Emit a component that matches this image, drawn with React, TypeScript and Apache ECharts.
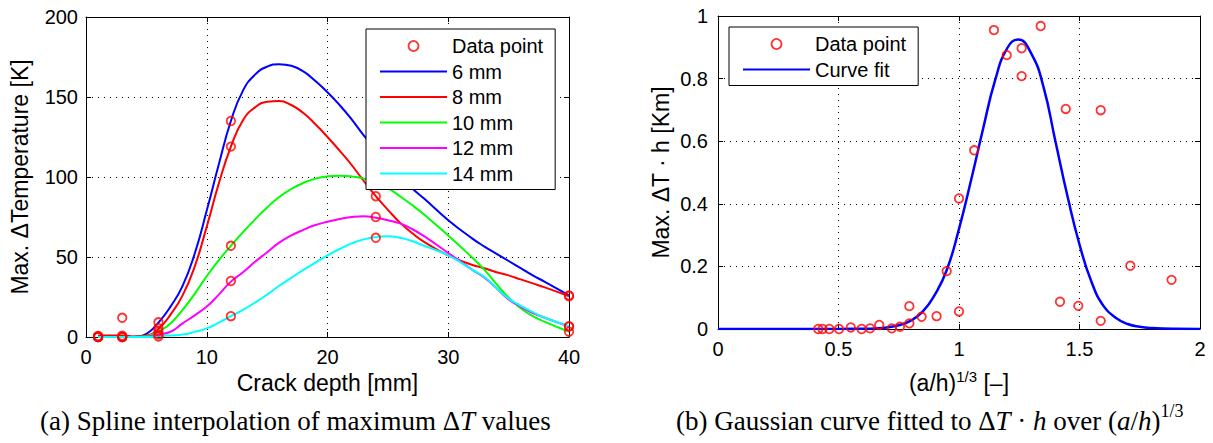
import React, { useEffect, useRef } from "react";
import * as echarts from "echarts";

// ---------- (a) Spline interpolation ----------
const depthTicksMax = 40;
const deltaTMax = 200;

// data points (crack depth [mm], max ΔT [K])
const crackDepthPts = [1, 1, 1, 1, 1, 3, 3, 3, 3, 3, 6, 6, 6, 6, 6, 12, 12, 12, 12, 12, 24, 24, 24, 24, 24, 40, 40, 40, 40, 40];
const maxDeltaTPts = [0.6, 0.3, 0, 0, 0, 12, 0.8, 0, 0, 0, 9.2, 5.5, 3.5, 1.5, 0.3, 135, 119, 57, 35, 13, 117, 88, 97, 75, 62, 26, 25.5, 3.3, 6.5, 6.8];

// spline curves
const curveDepth = [1, 3, 4, 5, 6, 7, 8, 9, 10, 11, 12, 13, 14, 15, 16, 17, 18, 19, 20, 21, 22, 23, 24, 25, 26, 27, 28, 30, 32, 33, 34, 35, 36, 37, 38, 40];
const curve6mm = [0.3, 0.5, 0.2, 2, 9, 19, 32, 52, 79, 108, 135, 154, 164, 169, 170.5, 169.5, 166, 160, 153, 145, 136, 126, 117, 108.5, 100.5, 93, 86.5, 73, 61.5, 56.5, 52, 47.5, 43, 38.5, 34.5, 26];
const curve8mm = [1, 1, 0.3, 1, 5, 14, 26, 44, 69, 96, 119, 135.5, 143.5, 147, 147.5, 145, 140, 133, 125, 116.5, 107.5, 97.5, 88, 79.5, 71.5, 65, 59.5, 51, 45, 43, 40.5, 38.5, 36, 33.5, 31, 25.5];
const curve10mm = [0, 0, 0, 0.5, 3.5, 8.5, 17, 27, 38, 48, 57, 65.5, 73.5, 81, 87.5, 92.5, 96.3, 99, 100.4, 100.8, 100.3, 99, 96.5, 93, 88, 82.5, 76.5, 63.5, 49.5, 42, 33, 24.5, 18, 13, 9.5, 3.3];
const curve12mm = [0, 0, 0, 0.2, 1.5, 3.3, 8.5, 13.5, 19, 26.5, 34.6, 40.5, 47, 53, 59, 63.5, 67, 70, 72, 73.8, 75, 75.5, 74.6, 73, 71, 67.5, 63, 52.5, 42, 37, 30.5, 23.5, 19, 15, 12, 6.5];
const curve14mm = [0, 0, 0, 0, 0.5, 1, 1.5, 3.2, 5.4, 9, 13, 17, 21.5, 26.5, 32, 37, 42, 46.5, 51, 55, 58.5, 61, 62.5, 63, 62, 60, 57, 51, 42, 37.5, 30.5, 24, 19.5, 15.5, 12, 6.8];

// ---------- (b) Gaussian fit ----------
const ratioPts = [0.416, 0.434, 0.462, 0.502, 0.551, 0.596, 0.631, 0.669, 0.721, 0.755, 0.794, 0.794, 0.845, 0.907, 0.949, 1.0, 1.0, 1.063, 1.145, 1.198, 1.26, 1.26, 1.339, 1.419, 1.443, 1.495, 1.588, 1.588, 1.711, 1.882];
const dtHPts = [0, 0, 0, 0, 0.005, 0, 0.002, 0.013, 0.002, 0.007, 0.018, 0.073, 0.039, 0.041, 0.185, 0.417, 0.056, 0.571, 0.955, 0.875, 0.897, 0.808, 0.968, 0.087, 0.703, 0.074, 0.699, 0.026, 0.202, 0.157];
const fitX = [0, 0.5, 0.6, 0.65, 0.7, 0.75, 0.8, 0.85, 0.9, 0.95, 1.0, 1.05, 1.1, 1.15, 1.2, 1.245, 1.3, 1.35, 1.4, 1.45, 1.5, 1.55, 1.6, 1.65, 1.7, 1.75, 1.8, 1.9, 2.0];
const fitY = [0, 0, 0.001, 0.002, 0.005, 0.012, 0.027, 0.056, 0.11, 0.19, 0.32, 0.475, 0.64, 0.795, 0.897, 0.925, 0.88, 0.775, 0.6, 0.425, 0.27, 0.15, 0.073, 0.036, 0.016, 0.007, 0.003, 0.0005, 0];

const curveNames = ["6 mm", "8 mm", "10 mm", "12 mm", "14 mm"];
const curveValues = [curve6mm, curve8mm, curve10mm, curve12mm, curve14mm];
const curveColors = ["#0000ff", "#ff0000", "#00ff00", "#ff00ff", "#00ffff"];

const sans = "'Liberation Sans', Arial, Helvetica, sans-serif";
const serif = "'Liberation Serif', 'Times New Roman', serif";

const zip = (xs: number[], ys: number[]) => xs.map((x, i) => [x, ys[i]]);

const tickFont = 20;
const nameFont = 23;

const mainAxis = (extra: any) => ({
  type: "value",
  axisLine: { show: true, onZero: false, lineStyle: { color: "#000", width: 1 } },
  axisTick: { show: true, inside: true, length: 5, lineStyle: { color: "#000" } },
  splitLine: { show: true, lineStyle: { color: "#000", type: [1, 5], width: 1 } },
  nameLocation: "middle",
  nameTextStyle: { color: "#000", fontSize: nameFont, fontFamily: sans },
  ...extra,
});
const sideAxis = (extra: any) => ({
  type: "value",
  axisLine: { show: true, onZero: false, lineStyle: { color: "#000", width: 1 } },
  axisTick: { show: true, inside: true, length: 5, lineStyle: { color: "#000" } },
  axisLabel: { show: false },
  splitLine: { show: false },
  ...extra,
});
const label = (margin: number) => ({ color: "#000", fontSize: tickFont, fontFamily: sans, margin });

const lineIcon = "path://M0 0H67V2H0Z";
const circleLegend = {
  name: "Data point",
  icon: "circle",
  itemStyle: { color: "transparent", borderColor: "#ff0000", borderWidth: 1.8 },
};

const legendCommon = {
  orient: "vertical",
  itemWidth: 67,
  itemHeight: 10,
  itemGap: 5.5,
  padding: [7, 12, 6, 14],
  borderColor: "#000",
  borderWidth: 1,
  borderRadius: 0,
  backgroundColor: "#fff",
  textStyle: { color: "#000", fontSize: 20, fontFamily: sans, lineHeight: 20 },
  selectedMode: false,
};

const option: any = {
  animation: false,
  backgroundColor: "#fff",
  grid: [
    { left: 86, top: 17, width: 483, height: 320 },
    { left: 718, top: 16, width: 482, height: 313 },
  ],
  xAxis: [
    mainAxis({
      gridIndex: 0, min: 0, max: depthTicksMax, interval: 10, position: "bottom",
      name: "Crack depth [mm]", nameGap: 34,
      axisLabel: label(10),
    }),
    sideAxis({ gridIndex: 0, min: 0, max: depthTicksMax, interval: 10, position: "top" }),
    mainAxis({
      gridIndex: 1, min: 0, max: 2, interval: 0.5, position: "bottom",
      name: "(a/h){sup|1/3} [–]", nameGap: 40,
      axisLabel: label(10),
      nameTextStyle: {
        color: "#000", fontSize: nameFont, fontFamily: sans, lineHeight: 28,
        rich: { sup: { fontSize: 15, lineHeight: 15, verticalAlign: "top", fontFamily: sans, color: "#000" } },
      },
    }),
    sideAxis({ gridIndex: 1, min: 0, max: 2, interval: 0.5, position: "top" }),
  ],
  yAxis: [
    mainAxis({
      gridIndex: 0, min: 0, max: deltaTMax, interval: 50, position: "left",
      name: "Max. ΔTemperature [K]", nameGap: 55,
      axisLabel: label(8),
    }),
    sideAxis({ gridIndex: 0, min: 0, max: deltaTMax, interval: 50, position: "right" }),
    mainAxis({
      gridIndex: 1, min: 0, max: 1, interval: 0.2, position: "left",
      name: "Max. ΔT · h [Km]", nameGap: 46,
      axisLabel: label(10),
    }),
    sideAxis({ gridIndex: 1, min: 0, max: 1, interval: 0.2, position: "right" }),
  ],
  legend: [
    {
      ...legendCommon,
      left: 366,
      top: 29,
      data: [circleLegend, ...curveNames.map((n) => ({ name: n, icon: lineIcon }))],
    },
    {
      ...legendCommon,
      left: 729,
      top: 27,
      data: [circleLegend, { name: "Curve fit", icon: lineIcon }],
    },
  ],
  series: [
    {
      name: "Data point",
      type: "scatter",
      xAxisIndex: 0,
      yAxisIndex: 0,
      symbol: "circle",
      symbolSize: 8.5,
      itemStyle: { color: "transparent", borderColor: "#ff0000", borderWidth: 1.8 },
      data: zip(crackDepthPts, maxDeltaTPts),
      z: 3,
    },
    ...curveNames.map((n, i) => ({
      name: n,
      type: "line",
      xAxisIndex: 0,
      yAxisIndex: 0,
      smooth: true,
      symbol: "none",
      color: curveColors[i],
      lineStyle: { color: curveColors[i], width: 2 },
      data: zip(curveDepth, curveValues[i]),
      z: 2,
    })),
    {
      name: "Data point",
      type: "scatter",
      xAxisIndex: 2,
      yAxisIndex: 2,
      symbol: "circle",
      symbolSize: 8.5,
      itemStyle: { color: "transparent", borderColor: "#ff0000", borderWidth: 1.8 },
      data: zip(ratioPts, dtHPts),
      z: 3,
    },
    {
      name: "Curve fit",
      type: "line",
      xAxisIndex: 2,
      yAxisIndex: 2,
      smooth: true,
      symbol: "none",
      color: "#0000ff",
      lineStyle: { color: "#0000ff", width: 2.5 },
      data: zip(fitX, fitY),
      z: 2,
    },
  ],
  graphic: [
    {
      type: "text",
      x: 40,
      y: 421,
      style: {
        text: "{n|(a) Spline interpolation of maximum Δ}{i|T}{n| values}",
        verticalAlign: "middle",
        rich: {
          n: { fontFamily: serif, fontSize: 27, lineHeight: 27, fill: "#000" },
          i: { fontFamily: serif, fontSize: 27, lineHeight: 27, fontStyle: "italic", fill: "#000" },
        },
      },
    },
    {
      type: "text",
      x: 676,
      y: 421,
      style: {
        text: "{n|(b) Gaussian curve fitted to Δ}{i|T}{n| · }{i|h}{n| over (}{i|a}{n|/}{i|h}{n|)}{s|1/3}",
        verticalAlign: "middle",
        rich: {
          n: { fontFamily: serif, fontSize: 27, lineHeight: 38, fill: "#000" },
          i: { fontFamily: serif, fontSize: 27, lineHeight: 38, fontStyle: "italic", fill: "#000" },
          s: { fontFamily: serif, fontSize: 18, lineHeight: 18, verticalAlign: "top", fill: "#000" },
        },
      },
    },
  ],
};

export default function App() {
  const ref = useRef<HTMLDivElement>(null);
  useEffect(() => {
    document.body.style.margin = "0";
    const chart = echarts.init(ref.current!, null, { renderer: "svg" });
    chart.setOption(option);
    return () => chart.dispose();
  }, []);
  return <div ref={ref} style={{ width: 1213, height: 443 }} />;
}
